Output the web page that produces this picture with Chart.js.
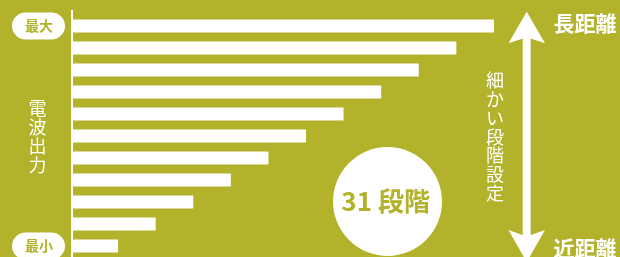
<!DOCTYPE html>
<html lang="ja">
<head>
<meta charset="utf-8">
<script src="https://cdn.jsdelivr.net/npm/chart.js@4.4.1/dist/chart.umd.min.js"></script>
<style>
  html, body { margin: 0; padding: 0; background: #b2b22b; }
  #wrap { width: 620px; height: 257px; position: relative; }
</style>
</head>
<body>
<div id="wrap"><canvas id="chart-power"></canvas></div>
<script>
const OLIVE = '#b2b22b';
const JP = '"Noto Sans CJK JP", "Noto Sans", sans-serif';

// 11 bars, top = strongest output, bottom = weakest
const levels = ['1', '2', '3', '4', '5', '6', '7', '8', '9', '10', '11'];
const powerValues = [112, 102, 92, 82, 72, 62, 52, 42, 32, 22, 12];
const tickLabels = ['最大', '最小'];
const axisTitle = '電波出力';
const stepsLabel = ['31', '段階'];
const rangeLabels = ['長距離', '近距離'];
const sideNote = '細かい段階設定';

Chart.defaults.font.family = JP;

function drawVertical(ctx, text, x, y0, pitch) {
    Array.from(text).forEach((ch, i) => {
        ctx.fillText(ch, x, y0 + i * pitch);
    });
}

function edgeTicks(scale) {
    const n = scale.ticks.length;
    return [scale.getPixelForTick(0), scale.getPixelForTick(n - 1)];
}

const decorations = {
    id: 'decorations',
    beforeDraw(chart) {
        // white pills behind the 最大 / 最小 tick labels
        const ctx = chart.ctx;
        ctx.save();
        ctx.fillStyle = '#ffffff';
        edgeTicks(chart.scales.y).forEach(cy => {
            ctx.beginPath();
            ctx.roundRect(12, cy - 13.5, 53, 27, 13.5);
            ctx.fill();
        });
        ctx.restore();
    },
    beforeDatasetsDraw(chart) {
        // axis line, runs a bit above the first bar
        const ctx = chart.ctx;
        ctx.save();
        ctx.fillStyle = '#ffffff';
        ctx.fillRect(chart.chartArea.left - 2, 10, 2, chart.chartArea.bottom - 10);
        ctx.restore();
    },
    afterDraw(chart) {
        const ctx = chart.ctx;
        ctx.save();
        ctx.fillStyle = '#ffffff';
        ctx.textAlign = 'center';
        ctx.textBaseline = 'middle';

        // axis title, stacked vertically
        ctx.font = '18px ' + JP;
        drawVertical(ctx, axisTitle, 37.5, 108, 19);

        // side note
        drawVertical(ctx, sideNote, 495, 80, 18.9);

        // range labels
        ctx.font = 'bold 21px ' + JP;
        ctx.fillText(rangeLabels[0], 585, 23);
        ctx.fillText(rangeLabels[1], 585, 248);

        // double-headed arrow
        ctx.fillRect(522.7, 37, 8, 200);
        ctx.beginPath();
        ctx.moveTo(526.7, 11.7);
        ctx.lineTo(545, 43.3);
        ctx.lineTo(526.7, 37.3);
        ctx.lineTo(508.5, 43.3);
        ctx.closePath();
        ctx.fill();
        ctx.beginPath();
        ctx.moveTo(526.7, 262);
        ctx.lineTo(545, 230);
        ctx.lineTo(526.7, 236.5);
        ctx.lineTo(508.5, 230);
        ctx.closePath();
        ctx.fill();

        // circle badge
        ctx.beginPath();
        ctx.arc(387.5, 201.5, 54.5, 0, Math.PI * 2);
        ctx.fill();
        ctx.fillStyle = OLIVE;
        ctx.font = 'bold 26px ' + JP;
        ctx.textAlign = 'right';
        ctx.fillText(stepsLabel[0], 372, 201);
        ctx.textAlign = 'left';
        ctx.fillText(stepsLabel[1], 378, 201);
        ctx.restore();
    },
};

new Chart(document.getElementById('chart-power'), {
    type: 'bar',
    data: {
        labels: levels,
        datasets: [{
            data: powerValues,
            backgroundColor: '#ffffff',
            borderWidth: 0,
            categoryPercentage: 1,
            barPercentage: 0.58,
        }],
    },
    options: {
        indexAxis: 'y',
        responsive: true,
        maintainAspectRatio: false,
        animation: false,
        layout: {
            padding: { top: 15, right: 96, bottom: 0, left: 0 },
        },
        plugins: {
            legend: { display: false },
            tooltip: { enabled: false },
        },
        scales: {
            x: {
                type: 'linear',
                display: false,
                min: 0,
                max: 120,
            },
            y: {
                afterFit(scale) {
                    scale.width = 73;
                    scale.paddingTop = 0;
                    scale.paddingBottom = 0;
                },
                grid: { display: false, drawTicks: false },
                border: { display: false },
                ticks: {
                    autoSkip: false,
                    crossAlign: 'center',
                    padding: 20,
                    color: OLIVE,
                    font: { size: 14, weight: 'bold' },
                    callback: (v, i, ticks) => i === 0 ? tickLabels[0] : (i === ticks.length - 1 ? tickLabels[1] : ''),
                },
            },
        },
    },
    plugins: [decorations],
});
</script>
</body>
</html>
